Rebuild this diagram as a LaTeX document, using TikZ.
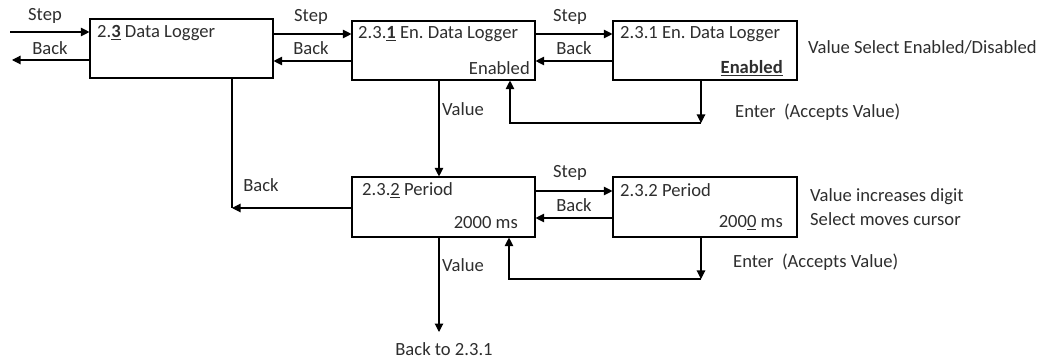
\documentclass[tikz,border=0pt]{standalone}
\usepackage{fontspec}
\setmainfont{Carlito}
\usetikzlibrary{arrows.meta}
\begin{document}
\frenchspacing
\begin{tikzpicture}[x=1pt,y=-1pt,
  box/.style={draw,line width=1.1pt,inner sep=0pt},
  arr/.style={line width=1.1pt,-{Triangle[length=8.5pt,width=8.5pt]}},
  ln/.style={line width=1.1pt},
  txt/.style={inner sep=0pt,text=black!82,font=\fontsize{18.6}{20}\selectfont}]
\useasboundingbox (0,0) rectangle (1042,358);
% boxes
\node[box,minimum width=183pt,minimum height=59pt] (A) at (181.5,48.5) {};
\node[box,minimum width=183pt,minimum height=59pt] (B) at (443.5,50.5) {};
\node[box,minimum width=184pt,minimum height=59pt] (C) at (705,50.5) {};
\node[box,minimum width=183pt,minimum height=60pt] (D) at (443.5,207) {};
\node[box,minimum width=184pt,minimum height=60pt] (E) at (705,207) {};
% box texts
\node[txt,anchor=west] (tA) at (97,33) {2.\underline{\textbf{3}} Data Logger};
\node[txt,anchor=west] (tB) at (358,34) {2.3.\underline{\textbf{1}} En. Data Logger};
\node[txt,anchor=east] (vB) at (530,68) {Enabled};
\node[txt,anchor=west] (tC) at (620,34) {2.3.1 En. Data Logger};
\node[txt,anchor=east] (vC) at (783,68) {\underline{\textbf{Enabled}}};
\node[txt,anchor=west] (tD) at (362,190) {2.3.\underline{2} Period};
\node[txt,anchor=east] (vD) at (518,223) {2000 ms};
\node[txt,anchor=west] (tE) at (620,190) {2.3.2 Period};
\node[txt,anchor=east] (vE) at (783,223) {200\underline{0} ms};
% side texts
\node[txt,anchor=west] (nC) at (808,47) {Value Select Enabled/Disabled};
\node[txt,anchor=west] (nE1) at (810,197) {Value increases digit};
\node[txt,anchor=west] (nE2) at (810,219) {Select moves cursor};
\node[txt,anchor=west] (enC) at (735,112) {Enter\ \ (Accepts Value)};
\node[txt,anchor=west] (enE) at (733,262) {Enter\ \ (Accepts Value)};
\node[txt] (backto) at (444,349) {Back to 2.3.1};
% coordinates
\coordinate (y32) at (0,32);
\coordinate (y34) at (0,34);
\coordinate (y60) at (0,60);
\coordinate (y61) at (0,61);
\coordinate (y191) at (0,191);
\coordinate (y218) at (0,218);
\coordinate (inA) at (10,32);
\coordinate (outA) at (12,60);
\coordinate (bk) at (232,208);
\coordinate (c1) at (701,123);
\coordinate (c2) at (510,123);
\coordinate (e1) at (701,279);
\coordinate (e2) at (509,279);
\coordinate (vx) at (439,0);
\coordinate (bt) at (439,332);
% connectors
\draw[arr] (inA) -- (A.west |- y32);
\draw[arr] (A.west |- y60) -- (outA);
\draw[arr] (A.east |- y34) -- (B.west |- y34);
\draw[arr] (B.west |- y61) -- (A.east |- y61);
\draw[arr] (B.east |- y34) -- (C.west |- y34);
\draw[arr] (C.west |- y61) -- (B.east |- y61);
\draw[arr] (D.east |- y191) -- (E.west |- y191);
\draw[arr] (E.west |- y218) -- (D.east |- y218);
\draw[ln] (A.south -| bk) -- (bk);
\draw[arr] (D.west |- bk) -- (bk);
\draw[arr] (C.south -| c1) -- (c1);
\draw[arr] (c1) -- (c2) -- (B.south -| c2);
\draw[arr] (E.south -| e1) -- (e1);
\draw[arr] (e1) -- (e2) -- (D.south -| e2);
\draw[arr] (B.south -| vx) -- (D.north -| vx);
\draw[arr] (D.south -| vx) -- (bt);
% connector labels
\node[txt] (s1) at (45,16) {Step};
\node[txt] (b1) at (50,48) {Back};
\node[txt] (s2) at (311,17) {Step};
\node[txt] (b2) at (311,48) {Back};
\node[txt] (s3) at (570,17) {Step};
\node[txt] (b3) at (574,48) {Back};
\node[txt] (vl1) at (463,109) {Value};
\node[txt] (b4) at (261,185) {Back};
\node[txt] (s4) at (570,173) {Step};
\node[txt] (b5) at (574,205) {Back};
\node[txt] (vl2) at (463,265) {Value};
\end{tikzpicture}
\end{document}
